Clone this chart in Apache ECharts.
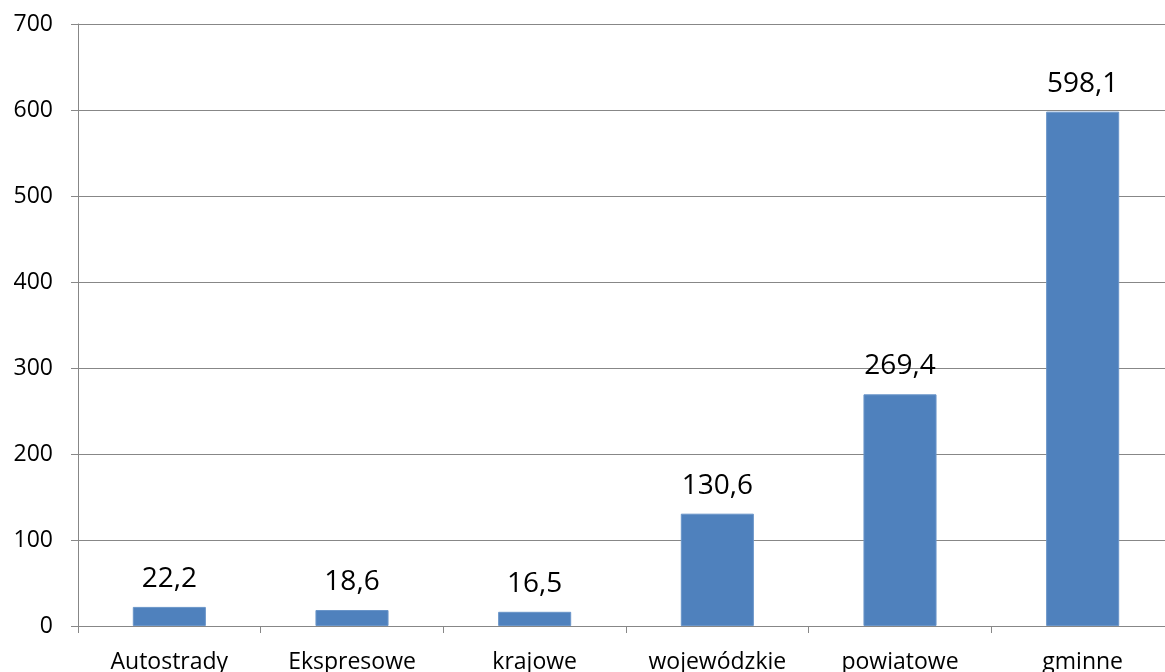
<!DOCTYPE html>
<html>
<head>
<meta charset="utf-8">
<script src="https://cdn.jsdelivr.net/npm/echarts@6/dist/echarts.min.js"></script>
<style>
  html, body { margin: 0; padding: 0; background: #fff; }
  #chart { width: 1165px; height: 672px; }
</style>
</head>
<body>
<div id="chart"></div>
<script>
// Road categories and their values
const categories = ['Autostrady', 'Ekspresowe', 'krajowe', 'wojewódzkie', 'powiatowe', 'gminne'];
const values = [22.2, 18.6, 16.5, 130.6, 269.4, 598.1];
const yTicks = { min: 0, max: 700, interval: 100 };

const fontFamily = '"Open Sans", "Noto Sans", sans-serif';
const axisGray = '#878787';

const chart = echarts.init(document.getElementById('chart'), null, { renderer: 'canvas' });
chart.setOption({
  animation: false,
  backgroundColor: '#ffffff',
  // plot area runs past the right edge, so the last category is cut off
  grid: { left: 78, width: 1096, top: 24, bottom: 46, containLabel: false, outerBoundsMode: 'none' },
  xAxis: {
    type: 'category',
    data: categories,
    boundaryGap: true,
    axisLine: { show: true, lineStyle: { color: axisGray, width: 1 } },
    axisTick: { show: true, length: 7, alignWithLabel: false, lineStyle: { color: axisGray } },
    axisLabel: { color: '#000', fontFamily: fontFamily, fontSize: 23, margin: 25, interval: 0 },
    splitLine: { show: false }
  },
  yAxis: {
    type: 'value',
    min: yTicks.min,
    max: yTicks.max,
    interval: yTicks.interval,
    axisLine: { show: true, lineStyle: { color: axisGray, width: 1 } },
    axisTick: { show: true, length: 7, lineStyle: { color: axisGray } },
    axisLabel: { color: '#000', fontFamily: fontFamily, fontSize: 23, margin: 25 },
    splitLine: { show: true, lineStyle: { color: axisGray, width: 1 } }
  },
  series: [{
    type: 'bar',
    data: values,
    barWidth: '40%',
    itemStyle: { color: '#4f81bd', borderColor: '#6a95c9', borderWidth: 1 },
    label: {
      show: true,
      position: 'top',
      distance: 14,
      color: '#000',
      fontFamily: fontFamily,
      fontSize: 28,
      formatter: p => p.value.toFixed(1).replace('.', ',')
    }
  }]
});
</script>
</body>
</html>
